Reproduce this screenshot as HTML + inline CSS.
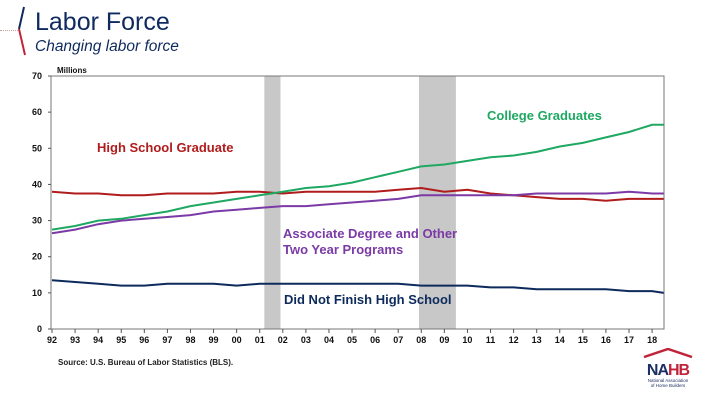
<!DOCTYPE html>
<html><head><meta charset="utf-8"><style>
body{margin:0;width:720px;height:405px;background:#fff;font-family:"Liberation Sans",Arial,sans-serif;overflow:hidden;position:relative}
.t{position:absolute;color:#0e2a5e}
</style></head><body>
<div style="position:absolute;left:0;top:30px;width:18px;border-top:1px dotted #c9a0a0"></div>
<svg style="position:absolute;left:16px;top:5px" width="12" height="52"><path d="M8 2 L3 24" stroke="#0e2a5e" stroke-width="2" fill="none"/><path d="M3 24 L9 50" stroke="#c0233a" stroke-width="2" fill="none"/></svg>
<div class="t" style="left:35px;top:8px;font-size:25px">Labor Force</div>
<div class="t" style="left:35px;top:38px;font-size:15.5px;font-style:italic">Changing labor force</div>
<svg id="c" width="720" height="405" style="position:absolute;left:0;top:0"></svg>
<div style="position:absolute;left:58px;top:358px;font-size:8px;font-weight:bold;color:#222">Source: U.S. Bureau of Labor Statistics (BLS).</div>
<div style="position:absolute;left:638px;top:345px;width:60px;text-align:center">
<svg width="56" height="10"><path d="M4 9 L28 1 L52 9" stroke="#c0233a" stroke-width="2.5" fill="none"/></svg>
<div style="font-size:16px;font-weight:bold;line-height:15px;color:#1c2f63;letter-spacing:-1px">NA<span style="color:#c0233a">HB</span></div>
<div style="font-size:4.5px;color:#1c2f63;line-height:5px">National Association<br>of Home Builders</div></div>
<script>
const years=[1992,1993,1994,1995,1996,1997,1998,1999,2000,2001,2002,2003,2004,2005,2006,2007,2008,2009,2010,2011,2012,2013,2014,2015,2016,2017,2018,2018.5];
const college=[27.5,28.5,30,30.5,31.5,32.5,34,35,36,37,38,39,39.5,40.5,42,43.5,45,45.5,46.5,47.5,48,49,50.5,51.5,53,54.5,56.5,56.5];
const highSchool=[38,37.5,37.5,37,37,37.5,37.5,37.5,38,38,37.5,38,38,38,38,38.5,39,38,38.5,37.5,37,36.5,36,36,35.5,36,36,36];
const associate=[26.5,27.5,29,30,30.5,31,31.5,32.5,33,33.5,34,34,34.5,35,35.5,36,37,37,37,37,37,37.5,37.5,37.5,37.5,38,37.5,37.5];
const dropout=[13.5,13,12.5,12,12,12.5,12.5,12.5,12,12.5,12.5,12.5,12.5,12.5,12.5,12.5,12,12,12,11.5,11.5,11,11,11,11,10.5,10.5,10];
const yTicks=[0,10,20,30,40,50,60,70];
const xTickLabels=["92","93","94","95","96","97","98","99","00","01","02","03","04","05","06","07","08","09","10","11","12","13","14","15","16","17","18"];
const recessions=[[2001.2,2001.9],[2007.9,2009.5]];
const L=51,R=664,T=76,B=329;
const x=v=>52+(v-1992)*23.08, y=v=>B-(v/70)*(B-T);
const s=document.getElementById('c');const N='http://www.w3.org/2000/svg';
function mk(t,a){const e=document.createElementNS(N,t);for(const k in a)e.setAttribute(k,a[k]);s.appendChild(e);return e;}
recessions.forEach(r=>{const e=mk('rect',{x:x(r[0]),y:T,width:x(r[1])-x(r[0]),height:B-T,fill:'#c8c8c8'});

});
let e=mk('path',{d:`M${L} ${T} H${R} V${B} H${L} Z`,fill:'none',stroke:'#777','stroke-width':1});


yTicks.forEach(v=>{const t=mk('text',{x:42,y:y(v)+3,'text-anchor':'end','font-size':9,'font-weight':'bold',fill:'#111'});t.textContent=v;


mk('line',{x1:L-3,x2:L,y1:y(v),y2:y(v),stroke:'#555'});});
xTickLabels.forEach((l,i)=>{const t=mk('text',{x:x(1992+i),y:343,'text-anchor':'middle','font-size':9,'font-weight':'bold',fill:'#111'});t.textContent=l;


mk('line',{x1:x(1992+i),x2:x(1992+i),y1:B,y2:B+4,stroke:'#555'});});
const u=mk('text',{x:57,y:73,'font-size':8,'font-weight':'bold',fill:'#111'});u.textContent='Millions';


function series(d,c,n){const p=mk('path',{d:d.map((v,i)=>(i?'L':'M')+x(years[i]).toFixed(1)+' '+y(v).toFixed(1)).join(''),fill:'none',stroke:c,'stroke-width':2});

}
series(highSchool,'#b01c1c','high-school-line');
series(associate,'#7b3aa6','associate-line');
series(college,'#1fa862','college-line');
series(dropout,'#0d2a5c','dropout-line');
function lab(tx,xx,yy,c,n){const t=mk('text',{x:xx,y:yy,'font-size':13,'font-weight':'bold',fill:c});t.textContent=tx;

}
lab('College Graduates',487,120,'#1fa862','college-label');
lab('High School Graduate',97,152,'#b01c1c','high-school-label');
lab('Associate Degree and Other',283,238,'#7b3aa6','associate-label');
lab('Two Year Programs',283,254,'#7b3aa6','associate-label-2');
lab('Did Not Finish High School',284,304,'#0d2a5c','dropout-label');
</script>
</body></html>
